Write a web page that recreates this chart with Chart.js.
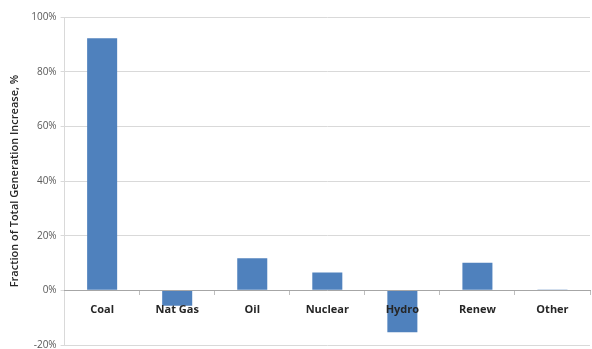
<!DOCTYPE html>
<html>
<head>
<meta charset="utf-8">
<script src="https://cdn.jsdelivr.net/npm/chart.js@4"></script>
<style>
  html, body { margin: 0; padding: 0; background: #fff; }
  #wrap { width: 592px; height: 349px; }
</style>
</head>
<body>
<div id="wrap"><canvas id="chart"></canvas></div>
<script>
// datos
const categorias = ['Coal', 'Nat Gas', 'Oil', 'Nuclear', 'Hydro', 'Renew', 'Other'];
const valores = [92.2, -5.6, 11.7, 6.5, -15.3, 10.1, 0.3];
const ejeY = [-20, 0, 20, 40, 60, 80, 100];

const ctx = document.getElementById('chart').getContext('2d');

new Chart(ctx, {
    type: 'bar',
    data: {
        labels: categorias,
        datasets: [{
            label: 'Fraction of Total Generation Increase',
            data: valores,
            backgroundColor: '#4f81bd',
            borderWidth: 0,
            categoryPercentage: 1,
            barPercentage: 0.4,
        }],
    },
    options: {
        responsive: true,
        maintainAspectRatio: false,
        animation: false,
        layout: { padding: { top: 17, right: 2, bottom: 4, left: 8 } },
        scales: {
            x: {
                position: { y: 0 },
                grid: {
                    display: true,
                    drawOnChartArea: false,
                    drawTicks: true,
                    tickLength: 4,
                    color: '#bfbfbf',
                },
                border: { display: true, color: '#a6a6a6', z: 1 },
                ticks: {
                    z: 1,
                    padding: 9,
                    color: '#262626',
                    font: { family: 'Open Sans', size: 11, weight: 'bold' },
                },
            },
            y: {
                min: ejeY[0],
                max: ejeY[ejeY.length - 1],
                afterBuildTicks: (axis) => { axis.ticks = ejeY.map(v => ({ value: v })); },
                afterFit: (axis) => { axis.paddingBottom = 0; },
                grid: {
                    color: '#d9d9d9',
                    tickLength: 4,
                },
                border: { display: true, color: '#d9d9d9' },
                ticks: {
                    padding: 4,
                    color: '#595959',
                    font: { family: 'Open Sans', size: 10 },
                    callback: (v) => v + '%',
                },
                title: {
                    display: true,
                    text: 'Fraction of Total Generation Increase, %',
                    color: '#262626',
                    font: { family: 'Open Sans', size: 11, weight: '600' },
                    padding: { top: 0, bottom: 6 },
                },
            },
        },
        plugins: {
            legend: { display: false },
            tooltip: { enabled: false },
        },
    },
});
</script>
</body>
</html>
